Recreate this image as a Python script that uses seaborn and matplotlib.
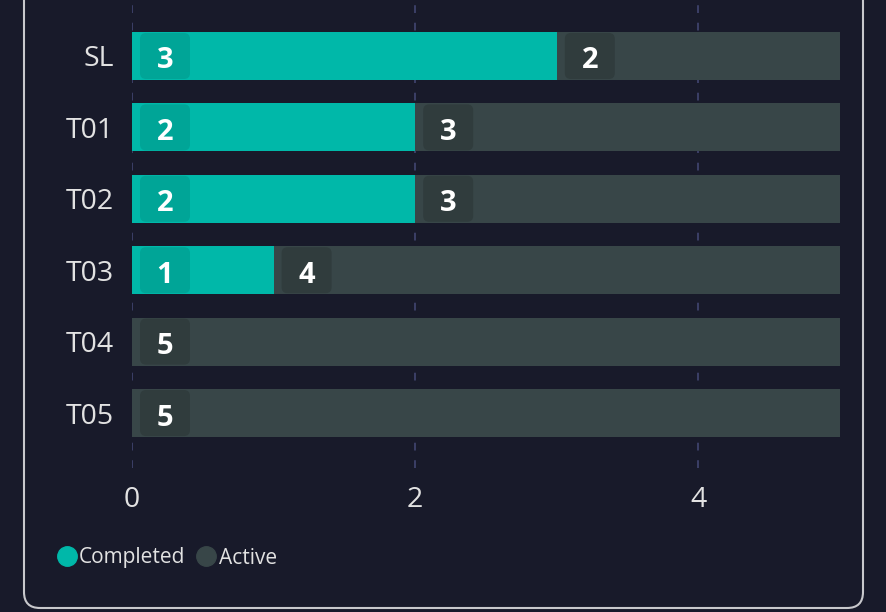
import numpy as np
import matplotlib as mpl
mpl.use("Agg")
import matplotlib.pyplot as plt
import seaborn as sns
from matplotlib.patches import FancyBboxPatch
from matplotlib.lines import Line2D

# data
teams = ["SL", "T01", "T02", "T03", "T04", "T05"]
completed = [3, 2, 2, 1, 0, 0]
active = [2, 3, 3, 4, 5, 5]
xticks = [0, 2, 4]

bg = "#181a2a"
teal = "#00b8a9"
teal_box = "#00a597"
grey = "#384648"
grey_box = "#303c3d"
txt = "#e2e2e2"

sns.set_style("dark")
plt.rcParams["font.family"] = ["Open Sans", "DejaVu Sans"]

fig = plt.figure(figsize=(8.86, 6.12), dpi=100, facecolor=bg)
ax = fig.add_axes([132 / 886, 1 - 468 / 612, (840 - 132) / 886, 468 / 612])
ax.set_facecolor(bg)

total = [c + a for c, a in zip(completed, active)]
sns.barplot(x=total, y=teams, orient="h", color=grey, saturation=1,
            width=0.67, ax=ax, zorder=2, linewidth=0, edgecolor="none")
sns.barplot(x=completed, y=teams, orient="h", color=teal, saturation=1,
            width=0.67, ax=ax, zorder=3, linewidth=0, edgecolor="none")

ax.set_xlim(0, 5)
ax.set_ylim(5.77, -0.784)

# label boxes (sizes in pixels converted to data units)
upx = 5 / 708.0
upy = 5 / 357.0
bw, bh, off = 50 * upx, 46 * upy, 8 * upx
for i, (c, a) in enumerate(zip(completed, active)):
    for start, val, bc in [(0, c, teal_box), (c, a, grey_box)]:
        if val <= 0:
            continue
        box = FancyBboxPatch((start + off, i - bh / 2), bw, bh,
                             boxstyle="round,pad=0,rounding_size=%f" % (6 * upx),
                             mutation_aspect=upy / upx, fc=bc, ec="none", zorder=4)
        ax.add_patch(box)
        ax.text(start + off + bw / 2, i + 0.07, str(val), ha="center", va="center",
                color="white", fontsize=21, fontweight="bold", zorder=5)

ax.set_xticks(xticks)
ax.grid(axis="x", color="#3b4067", linestyle=(0, (4, 5)), linewidth=1.4, zorder=0)
ax.grid(axis="y", visible=False)
for s in ax.spines.values():
    s.set_visible(False)
ax.tick_params(axis="y", length=0, pad=13, labelsize=20.5, labelcolor=txt)
ax.tick_params(axis="x", length=0, pad=13, labelsize=20.5, labelcolor=txt)
ax.set_xlabel("")
ax.set_ylabel("")

# legend
handles = [Line2D([], [], marker="o", linestyle="", markersize=14, color=teal),
           Line2D([], [], marker="o", linestyle="", markersize=14, color=grey)]
fig.legend(handles, ["Completed", "Active"], loc="center left",
           bbox_to_anchor=(48 / 886, 1 - 558 / 612), frameon=False, ncol=2,
           handlelength=0.8, handletextpad=0.2, columnspacing=0.6,
           borderpad=0, prop={"size": 15}, labelcolor=txt)

# card border
card = FancyBboxPatch((0.24, 0.04), 8.39, 7.0,
                      boxstyle="round,pad=0,rounding_size=0.16",
                      transform=fig.dpi_scale_trans, fc="none", ec="#c8c8cc",
                      lw=1.5, zorder=-1)
fig.patches.append(card)

fig.savefig("out.png", dpi=100, facecolor=bg)
